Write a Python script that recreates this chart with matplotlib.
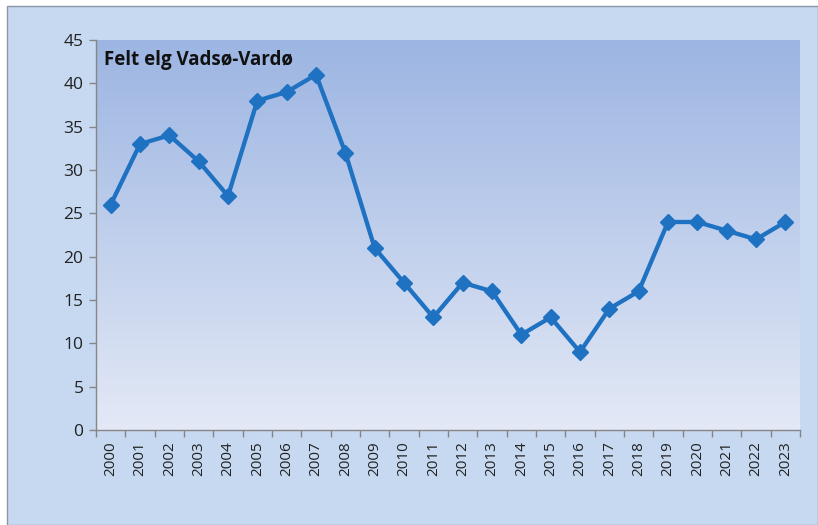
import matplotlib
matplotlib.use("Agg")
import matplotlib.pyplot as plt
import numpy as np
from matplotlib.colors import LinearSegmentedColormap
from matplotlib.patches import Rectangle

years = [str(y) for y in range(2000, 2024)]
values = [26, 33, 34, 31, 27, 38, 39, 41, 32, 21, 17, 13, 17, 16, 11, 13, 9, 14, 16, 24, 24, 23, 22, 24]
title = "Felt elg Vadsø-Vardø"

W, H = 818, 525
fig = plt.figure(figsize=(W / 100, H / 100), dpi=100)
fig.patch.set_facecolor("white")
# outer chart frame
fig.patches.append(Rectangle((7 / W, 0), 1 - 7 / W, 1 - 6 / H, transform=fig.transFigure,
                             facecolor="#c6d9f1", edgecolor="#8a96a8", linewidth=1.0, zorder=-5))

ax = fig.add_axes([96 / W, (H - 430) / H, (800 - 96) / W, (430 - 40) / H])
ax.set_facecolor("none")
ax.set_zorder(1)

# gradient background
cmap = LinearSegmentedColormap.from_list("g", ["#e3e9f6", "#9cb5e2"])
grad = np.linspace(0, 1, 256).reshape(-1, 1)
ax.imshow(grad, aspect="auto", cmap=cmap, extent=[0, 1, 0, 1], transform=ax.transAxes,
          origin="lower", zorder=0)

x = np.arange(len(years))
ax.plot(x, values, color="#1f71c1", linewidth=3.1, marker="D", markersize=8.5, zorder=3)

ax.set_xlim(-0.5, len(years) - 0.5)
ax.set_ylim(0, 45)
ax.set_yticks(np.arange(0, 46, 5))
ax.set_xticks(x)
ax.set_xticklabels(years, rotation=90, fontsize=11, family="Open Sans", color="#222222")
ax.set_xticks(np.arange(-0.5, len(years), 1), minor=True)
ax.tick_params(axis="x", which="major", length=0, pad=8)
ax.tick_params(axis="x", which="minor", length=5, color="#868686", width=1)
ax.tick_params(axis="y", length=5, color="#868686", width=1, labelsize=12.5, pad=4,
               labelcolor="#222222")
for lab in ax.get_yticklabels():
    lab.set_family("Open Sans")

for s in ["top", "right"]:
    ax.spines[s].set_visible(False)
for s in ["left", "bottom"]:
    ax.spines[s].set_color("#868686")
    ax.spines[s].set_linewidth(1)

ax.text(0.011, 0.975, title, transform=ax.transAxes, fontsize=13.5, fontweight="bold",
        family="Open Sans", va="top", ha="left", color="#111111", zorder=4)

fig.savefig("out.png", dpi=100)
